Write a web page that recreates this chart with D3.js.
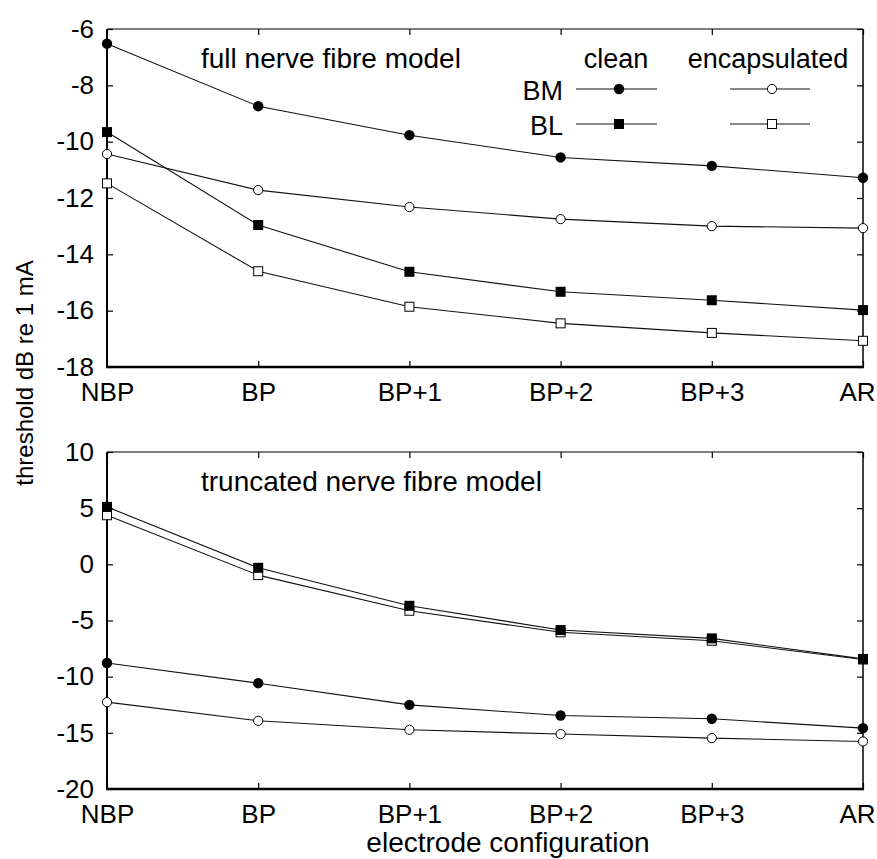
<!DOCTYPE html>
<html>
<head>
<meta charset="utf-8">
<script src="https://cdn.jsdelivr.net/npm/d3@7"></script>
<style>
  body { margin: 0; background: #fff; }
  text { font-family: "Liberation Sans", Arial, sans-serif; fill: #000; }
</style>
</head>
<body>
<div class="canvas"></div>
<script>
const categories = ["NBP", "BP", "BP+1", "BP+2", "BP+3", "AR"];

// full nerve fibre model
const fullBMClean = [-6.52, -8.74, -9.77, -10.56, -10.86, -11.28];
const fullBLClean = [-9.66, -12.96, -14.62, -15.33, -15.63, -15.98];
const fullBMEncap = [-10.44, -11.72, -12.32, -12.75, -13.0, -13.07];
const fullBLEncap = [-11.48, -14.6, -15.86, -16.45, -16.79, -17.07];

// truncated nerve fibre model
const truncBMClean = [-8.78, -10.58, -12.51, -13.46, -13.75, -14.58];
const truncBLClean = [5.11, -0.31, -3.69, -5.85, -6.59, -8.42];
const truncBMEncap = [-12.27, -13.93, -14.73, -15.11, -15.47, -15.77];
const truncBLEncap = [4.37, -0.96, -4.13, -6.05, -6.8, -8.47];

const fullTicks = [-18, -16, -14, -12, -10, -8, -6];
const truncTicks = [-20, -15, -10, -5, 0, 5, 10];

const width = 877;
const height = 859;

const svg = d3
  .select(".canvas")
  .append("svg")
  .attr("width", width)
  .attr("height", height);

const x = d3.scalePoint().domain(categories).range([107, 863]).padding(0);

const drawMarker = (g, cx, cy, shape, filled) => {
  if (shape === "circle") {
    g.append("circle")
      .attr("cx", cx)
      .attr("cy", cy)
      .attr("r", filled ? 5.2 : 4.6)
      .attr("fill", filled ? "#000" : "#fff")
      .attr("stroke", "#000")
      .attr("stroke-width", filled ? 0 : 1);
  } else {
    const s = filled ? 10 : 9;
    g.append("rect")
      .attr("x", cx - s / 2)
      .attr("y", cy - s / 2)
      .attr("width", s)
      .attr("height", s)
      .attr("fill", filled ? "#000" : "#fff")
      .attr("stroke", "#000")
      .attr("stroke-width", filled ? 0 : 1);
  }
};

const drawPanel = (cfg) => {
  const y = d3.scaleLinear().domain(cfg.domain).range([cfg.bottom, cfg.top]);
  const g = svg.append("g");

  // inward ticks on all four sides
  g.append("g")
    .attr("transform", `translate(${x.range()[0]},0)`)
    .call(d3.axisLeft(y).tickValues(cfg.ticks).tickSize(-6).tickPadding(13).tickFormat((d) => String(d)))
    .call((a) => a.select(".domain").remove())
    .call((a) => a.selectAll("text").attr("font-size", 26).attr("fill", "#000"));

  g.append("g")
    .attr("transform", `translate(${x.range()[1]},0)`)
    .call(d3.axisRight(y).tickValues(cfg.ticks).tickSize(-6).tickFormat(""))
    .call((a) => a.select(".domain").remove());

  g.append("g")
    .attr("transform", `translate(0,${cfg.top})`)
    .call(d3.axisTop(x).tickSize(-6).tickFormat(""))
    .call((a) => a.select(".domain").remove());

  g.append("g")
    .attr("transform", `translate(0,${cfg.bottom})`)
    .call(d3.axisBottom(x).tickSize(-6).tickPadding(16))
    .call((a) => a.select(".domain").remove())
    .call((a) => a.selectAll("text").attr("font-size", 26).attr("fill", "#000"))
    // last label sits flush with the right edge, as in the original
    .call((a) => a.selectAll("text").filter((d) => d === "AR").attr("text-anchor", "end").attr("x", 12));

  g.selectAll(".tick line").attr("stroke", "#000").attr("stroke-width", 1.2);

  // frame
  const [x0, x1] = x.range();
  const frame = [
    { x1: x0, y1: cfg.top, x2: x1, y2: cfg.top, w: 1.2 },
    { x1: x1, y1: cfg.top, x2: x1, y2: cfg.bottom, w: 1.5 },
    { x1: x0, y1: cfg.top, x2: x0, y2: cfg.bottom, w: 2 },
    { x1: x0 - 1, y1: cfg.bottom, x2: x1 + 1, y2: cfg.bottom, w: 2.5 },
  ];
  g.selectAll(".frame")
    .data(frame)
    .enter()
    .append("line")
    .attr("x1", (d) => d.x1)
    .attr("y1", (d) => d.y1)
    .attr("x2", (d) => d.x2)
    .attr("y2", (d) => d.y2)
    .attr("stroke", "#000")
    .attr("stroke-width", (d) => d.w);

  g.append("text")
    .attr("x", 201)
    .attr("y", cfg.top + 39)
    .attr("font-size", 28)
    .text(cfg.title);

  const line = d3
    .line()
    .x((d, i) => x(categories[i]))
    .y((d) => y(d));

  cfg.series.forEach((s) => {
    g.append("path")
      .attr("d", line(s.values))
      .attr("fill", "none")
      .attr("stroke", "#111")
      .attr("stroke-width", 1.1);
  });

  cfg.series.forEach((s) => {
    s.values.forEach((v, i) => drawMarker(g, x(categories[i]), y(v), s.shape, s.filled));
  });
};

drawPanel({
  top: 29,
  bottom: 367,
  domain: [-18, -6],
  ticks: fullTicks,
  title: "full nerve fibre model",
  series: [
    { values: fullBLEncap, shape: "square", filled: false },
    { values: fullBMEncap, shape: "circle", filled: false },
    { values: fullBLClean, shape: "square", filled: true },
    { values: fullBMClean, shape: "circle", filled: true },
  ],
});

drawPanel({
  top: 452,
  bottom: 789,
  domain: [-20, 10],
  ticks: truncTicks,
  title: "truncated nerve fibre model",
  series: [
    { values: truncBMEncap, shape: "circle", filled: false },
    { values: truncBMClean, shape: "circle", filled: true },
    { values: truncBLEncap, shape: "square", filled: false },
    { values: truncBLClean, shape: "square", filled: true },
  ],
});

// legend
const legend = svg.append("g");
legend.append("text").attr("x", 616).attr("y", 68).attr("font-size", 27).attr("text-anchor", "middle").text("clean");
legend.append("text").attr("x", 768).attr("y", 68).attr("font-size", 27).attr("text-anchor", "middle").text("encapsulated");

const legendRows = [
  { label: "BM", shape: "circle", y: 89 },
  { label: "BL", shape: "square", y: 124 },
];
legendRows.forEach((r) => {
  legend.append("text").attr("x", 563).attr("y", r.y + 11).attr("font-size", 27).attr("text-anchor", "end").text(r.label);
  [{ x1: 576, x2: 657, mx: 619, filled: true }, { x1: 730, x2: 810, mx: 772, filled: false }].forEach((c) => {
    legend.append("line")
      .attr("x1", c.x1).attr("x2", c.x2)
      .attr("y1", r.y).attr("y2", r.y)
      .attr("stroke", "#111").attr("stroke-width", 1.1);
    drawMarker(legend, c.mx, r.y, r.shape, c.filled);
  });
});

// axis titles
svg.append("text")
  .attr("transform", "translate(33,373) rotate(-90)")
  .attr("text-anchor", "middle")
  .attr("font-size", 24)
  .text("threshold dB re 1 mA");

svg.append("text")
  .attr("x", 508)
  .attr("y", 852)
  .attr("text-anchor", "middle")
  .attr("font-size", 28)
  .text("electrode configuration");
</script>
</body>
</html>
